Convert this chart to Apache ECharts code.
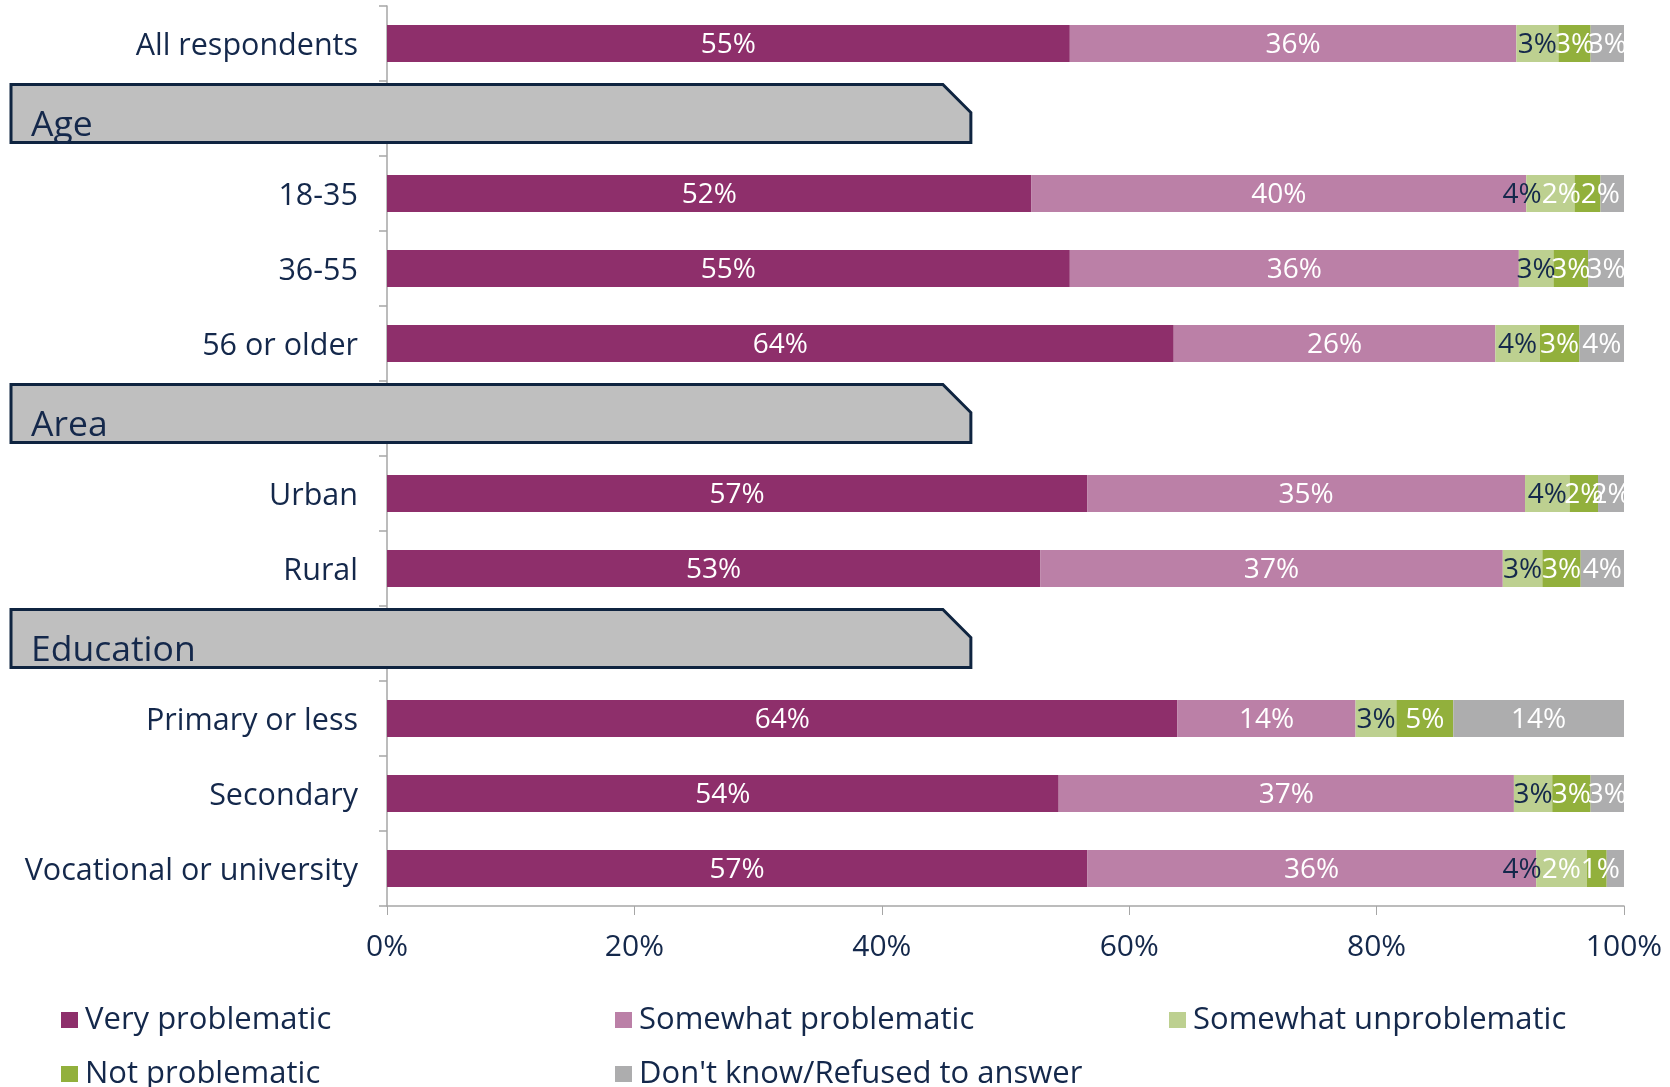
<!DOCTYPE html>
<html>
<head>
<meta charset="utf-8">
<script src="https://cdn.jsdelivr.net/npm/echarts@6/dist/echarts.min.js"></script>
<style>
  html, body { margin: 0; padding: 0; background: #ffffff; }
  #chart { width: 1670px; height: 1087px; }
</style>
</head>
<body>
<div id="chart"></div>
<script>
// ---- data ----
const categories = ['All respondents', 'Age', '18-35', '36-55', '56 or older', 'Area', 'Urban', 'Rural',
  'Education', 'Primary or less', 'Secondary', 'Vocational or university'];
const headerRows = ['Age', 'Area', 'Education'];
const seriesNames = ['Very problematic', 'Somewhat problematic', 'Somewhat unproblematic',
  'Not problematic', "Don't know/Refused to answer"];
const veryProblematic       = [55.2, null, 52.1, 55.2, 63.6, null, 56.6, 52.8, null, 63.9, 54.3, 56.6];
const somewhatProblematic   = [36.1, null, 40.0, 36.3, 26.0, null, 35.4, 37.4, null, 14.4, 36.8, 36.3];
const somewhatUnproblematic = [3.4, null, 3.9, 2.8, 3.6, null, 3.6, 3.2, null, 3.3, 3.1, 4.1];
const notProblematic        = [2.6, null, 2.1, 2.8, 3.2, null, 2.3, 3.1, null, 4.6, 3.1, 1.6];
const dontKnow              = [2.7, null, 1.9, 2.9, 3.6, null, 2.1, 3.5, null, 13.8, 2.7, 1.4];
const xTicks = [0, 20, 40, 60, 80, 100];

// ---- styles ----
const FONT = '"Open Sans", "DejaVu Sans", sans-serif';
const NAVY = '#14284b';
const GRID_GREY = '#a6a6a6';
const colors = ['#8e2f6b', '#bb80a7', '#bdd090', '#92b03c', '#adadae'];
const labelColors = ['#ffffff', '#ffffff', NAVY, '#ffffff', '#ffffff'];
const values = [veryProblematic, somewhatProblematic, somewhatUnproblematic, notProblematic, dontKnow];
const SMALL = [2, 3, 4]; // series whose labels may crowd at the right end

// Strongly crowded small-segment labels are re-spaced leftwards from the bar end
function smallLabelLayout(params) {
  const s = params.seriesIndex, d = params.dataIndex;
  const v = values[s][d];
  if (v == null || !params.rect || params.rect.width <= 0) return { dy: 2 };
  const ppu = params.rect.width / v;
  let x = params.rect.x;
  for (let j = s - 1; j >= SMALL[0]; j--) x -= values[j][d] * ppu;
  const centers = {};
  SMALL.forEach(j => { centers[j] = x + values[j][d] * ppu / 2; x += values[j][d] * ppu; });
  const rowRight = x;
  const w = params.labelRect.width;
  const last = SMALL[SMALL.length - 1];
  const prev = SMALL[SMALL.length - 2];
  if (centers[last] - centers[prev] >= 0.66 * w) return { dy: 2 };
  const pos = {};
  pos[last] = Math.min(centers[last], rowRight - 4 - w / 2);
  for (let k = SMALL.length - 2; k >= 0; k--) {
    const j = SMALL[k];
    pos[j] = Math.min(centers[j], pos[SMALL[k + 1]] - w);
  }
  return { dx: pos[s] - centers[s], dy: 2 };
}

const chart = echarts.init(document.getElementById('chart'), null, { renderer: 'canvas' });

const barSeries = seriesNames.map((name, i) => ({
  name: name,
  type: 'bar',
  stack: 'total',
  barWidth: 37,
  data: values[i],
  itemStyle: { color: colors[i] },
  label: {
    show: true,
    position: 'inside',
    formatter: p => (p.value == null ? '' : Math.round(p.value) + '%'),
    color: labelColors[i],
    fontFamily: FONT,
    fontSize: 28,
    textBorderWidth: 0
  },
  labelLayout: SMALL.indexOf(i) >= 0 ? smallLabelLayout : { dy: 2 },
  emphasis: { disabled: true },
  z: 2
}));

const headerSeries = {
  type: 'custom',
  name: 'headers',
  data: headerRows.map(h => [0, h]),
  encode: { x: 0, y: 1 },
  z: 5,
  silent: true,
  renderItem: function (params, api) {
    const idx = api.value(1);
    const c = api.coord([0, idx]);
    const rightX = api.coord([47.2, idx])[0];
    const leftX = c[0] - 376;
    const top = c[1] - 34;
    const bottom = c[1] + 24;
    const ch = 28;
    const name = categories[idx];
    return {
      type: 'group',
      children: [
        {
          type: 'polygon',
          shape: { points: [[leftX, top], [rightX - ch, top], [rightX, top + ch], [rightX, bottom], [leftX, bottom]] },
          style: { fill: '#bfbfbf', stroke: '#0f2440', lineWidth: 3 }
        },
        {
          type: 'text',
          style: {
            text: name,
            x: leftX + 20,
            y: c[1] + 7,
            textVerticalAlign: 'middle',
            textAlign: 'left',
            font: '35.5px ' + FONT,
            fill: NAVY
          }
        }
      ]
    };
  }
};

const option = {
  backgroundColor: '#ffffff',
  animation: false,
  color: colors,
  grid: { left: 387, right: 46, top: 6, bottom: 181, containLabel: false },
  legend: {
    data: seriesNames.map(n => ({ name: n, icon: 'rect' })),
    left: 61,
    top: 993,
    width: 1700,
    orient: 'horizontal',
    itemWidth: 17,
    itemHeight: 16,
    itemGap: 0,
    padding: 0,
    selectedMode: false,
    textStyle: {
      fontFamily: FONT,
      fontSize: 31,
      color: NAVY,
      width: 530,
      padding: [0, 0, 0, 2],
      overflow: 'none',
      lineHeight: 54
    }
  },
  xAxis: {
    type: 'value',
    min: xTicks[0],
    max: xTicks[xTicks.length - 1],
    interval: xTicks[1] - xTicks[0],
    axisLine: { show: true, lineStyle: { color: GRID_GREY, width: 1.5 } },
    axisTick: { show: true, length: 9, lineStyle: { color: GRID_GREY, width: 1 } },
    splitLine: { show: false },
    axisLabel: {
      formatter: '{value}%',
      fontFamily: FONT,
      fontSize: 30,
      color: NAVY,
      margin: 26
    }
  },
  yAxis: {
    type: 'category',
    data: categories,
    inverse: true,
    axisLine: { show: true, lineStyle: { color: GRID_GREY, width: 1.5 } },
    axisTick: { show: true, length: 8, lineStyle: { color: GRID_GREY, width: 1.5 } },
    axisLabel: {
      interval: 0,
      formatter: v => (headerRows.indexOf(v) >= 0 ? '' : v),
      fontFamily: FONT,
      fontSize: 30.5,
      color: NAVY,
      margin: 29,
      verticalAlign: 'top',
      lineHeight: 6
    }
  },
  series: barSeries.concat([headerSeries])
};

chart.setOption(option);
</script>
</body>
</html>
